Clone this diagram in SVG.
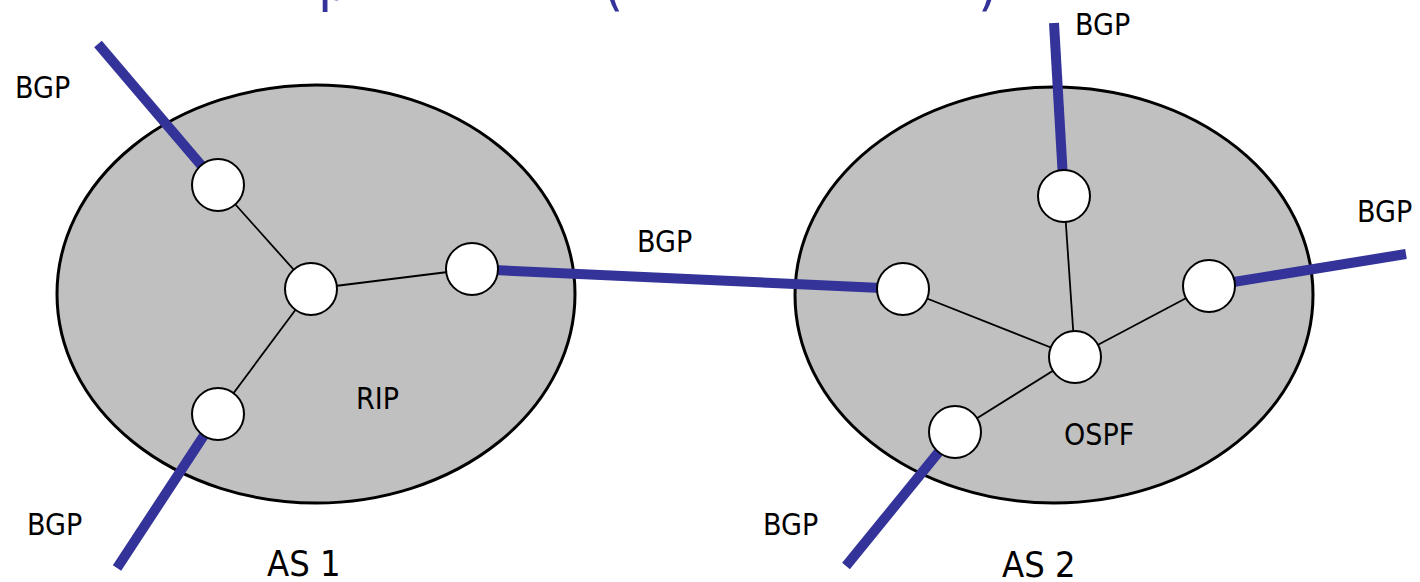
<svg xmlns="http://www.w3.org/2000/svg" width="1420" height="582" viewBox="0 0 1420 582">
<style>
.as{fill:#c0c0c0;stroke:#000;stroke-width:3}
.rt{fill:#fff;stroke:#000;stroke-width:2}
.in{stroke:#000;stroke-width:1.8;fill:none}
.bgp{stroke:#333399;stroke-width:10;fill:none}
.lbl{font-family:"DejaVu Sans Condensed","DejaVu Sans",sans-serif;font-stretch:condensed;font-size:30px;fill:#000}
.big{font-size:36px}
.ttl{font-family:"DejaVu Sans Condensed","DejaVu Sans",sans-serif;font-stretch:condensed;font-size:58px;fill:#333399}
</style>
<rect width="1420" height="582" fill="#fff"/>
<g id="title-fragment">
<text class="ttl" x="318" y="0">p</text>
<text class="ttl" x="603" y="4">(</text>
<text class="ttl" x="978" y="4">)</text>
</g>
<g id="as1">
<ellipse class="as" cx="316" cy="294" rx="259" ry="209"/>
<text class="lbl" x="356" y="409">RIP</text>
<text class="lbl big" x="267" y="576">AS 1</text>
</g>
<g id="as2">
<ellipse class="as" cx="1054" cy="295" rx="259" ry="208"/>
<text class="lbl" x="1064" y="445">OSPF</text>
<text class="lbl big" x="1002" y="577">AS 2</text>
</g>
<g id="connectors">
<line class="in" x1="218" y1="185" x2="311" y2="289"/>
<line class="in" x1="311" y1="289" x2="472" y2="269"/>
<line class="in" x1="311" y1="289" x2="218" y2="414"/>
<line class="in" x1="903" y1="289" x2="1075" y2="357"/>
<line class="in" x1="1064" y1="196" x2="1075" y2="357"/>
<line class="in" x1="1209" y1="286" x2="1075" y2="357"/>
<line class="in" x1="955" y1="432" x2="1075" y2="357"/>
<line class="bgp" x1="98" y1="44" x2="218" y2="185"/>
<line class="bgp" x1="218" y1="414" x2="117" y2="568"/>
<line class="bgp" x1="472" y1="269" x2="903" y2="289"/>
<line class="bgp" x1="1054" y1="23" x2="1064" y2="196"/>
<line class="bgp" x1="1209" y1="286" x2="1406" y2="254"/>
<line class="bgp" x1="955" y1="432" x2="846" y2="566"/>
</g>
<g id="r1a"><circle class="rt" cx="218" cy="185" r="26"/></g>
<g id="r1b"><circle class="rt" cx="311" cy="289" r="26"/></g>
<g id="r1c"><circle class="rt" cx="472" cy="269" r="26"/></g>
<g id="r1d"><circle class="rt" cx="218" cy="414" r="26"/></g>
<g id="r2a"><circle class="rt" cx="903" cy="289" r="26"/></g>
<g id="r2b"><circle class="rt" cx="1064" cy="196" r="26"/></g>
<g id="r2c"><circle class="rt" cx="1209" cy="286" r="26"/></g>
<g id="r2d"><circle class="rt" cx="1075" cy="357" r="26"/></g>
<g id="r2e"><circle class="rt" cx="955" cy="432" r="26"/></g>
<g id="labels">
<text class="lbl" x="15" y="98">BGP</text>
<text class="lbl" x="27" y="535">BGP</text>
<text class="lbl" x="637" y="252">BGP</text>
<text class="lbl" x="1075" y="35">BGP</text>
<text class="lbl" x="1357" y="222">BGP</text>
<text class="lbl" x="763" y="535">BGP</text>
</g>
</svg>
